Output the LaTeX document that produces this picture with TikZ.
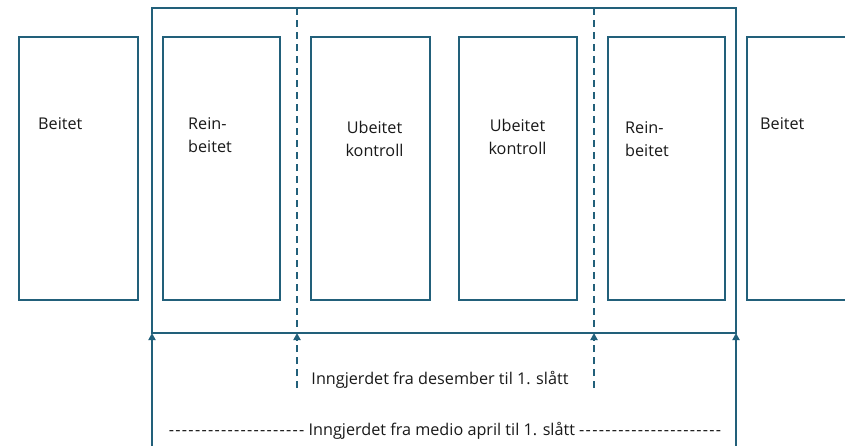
\documentclass[tikz,border=0pt]{standalone}
\usepackage{fontspec}
\newfontfamily\lblfont{Open Sans}
\newfontfamily\hyfont{Open Sans}[LetterSpace=8]
\usetikzlibrary{arrows.meta}
\definecolor{teal}{HTML}{22607A}
\newcommand\hyrowa{{\hyfont ---------------------}}
\newcommand\hyrowb{{\hyfont ----------------------}}
\begin{document}
\begin{tikzpicture}[x=1pt,y=-1pt,
  plot/.style={draw=teal,line width=2.1pt},
  frame/.style={draw=teal,line width=2.8pt},
  dsh/.style={draw=teal,line width=2.1pt,dash pattern=on 7pt off 5pt},
  lbl/.style={font=\lblfont\fontsize{16.2}{23.5}\selectfont,text=black!90,inner sep=0pt,align=left},
  arr/.style={-{Triangle[length=7pt,width=7pt]}}]
\clip (0,0) rectangle (845,445);
\fill[white] (0,0) rectangle (845,445);
% plots
\draw[plot] (19,37) rectangle (138,300);
\draw[plot] (163,37) rectangle (280,300);
\draw[plot] (311,37) rectangle (430,300);
\draw[plot] (459,37) rectangle (577,300);
\draw[plot] (608,37) rectangle (725,300);
\draw[plot] (747,37) rectangle (866,300);
% outer frame
\draw[frame] (152,8) rectangle (736,333);
\coordinate (fl) at (152,333);
\coordinate (fr) at (736,333);
\coordinate (d1t) at (297,8);
\coordinate (d1) at (297,333);
\coordinate (d2t) at (594,8);
\coordinate (d2) at (594,333);
\coordinate (d1b) at (297,388);
\coordinate (d2b) at (594,388);
\coordinate (flb) at (152,446);
\coordinate (frb) at (736,446);
\draw[dsh] (d1t) -- (d1);
\draw[dsh] (d2t) -- (d2);
\draw[dsh,arr] (d1b) -- (d1);
\draw[dsh,arr] (d2b) -- (d2);
\draw[plot,arr] (flb) -- (fl);
\draw[plot,arr] (frb) -- (fr);
% labels
\node[lbl,anchor=west] (t1) at (38,124) {Beitet};
\node[lbl,anchor=west] (t2) at (188,135) {Rein-\\beitet};
\node[lbl,align=center] (t3) at (374.5,139) {Ubeitet\\kontroll};
\node[lbl,align=center] (t4) at (517.5,137) {Ubeitet\\kontroll};
\node[lbl,anchor=west] (t5) at (625,139) {Rein-\\beitet};
\node[lbl,anchor=west] (t6) at (760,124) {Beitet};
\node[lbl] (b1) at (440,380) {Inngjerdet fra desember til 1. slått};
\node[lbl] (b2) at (445,431) {\hyrowa{} Inngjerdet fra medio april til 1. slått \hyrowb};
\end{tikzpicture}
\end{document}
